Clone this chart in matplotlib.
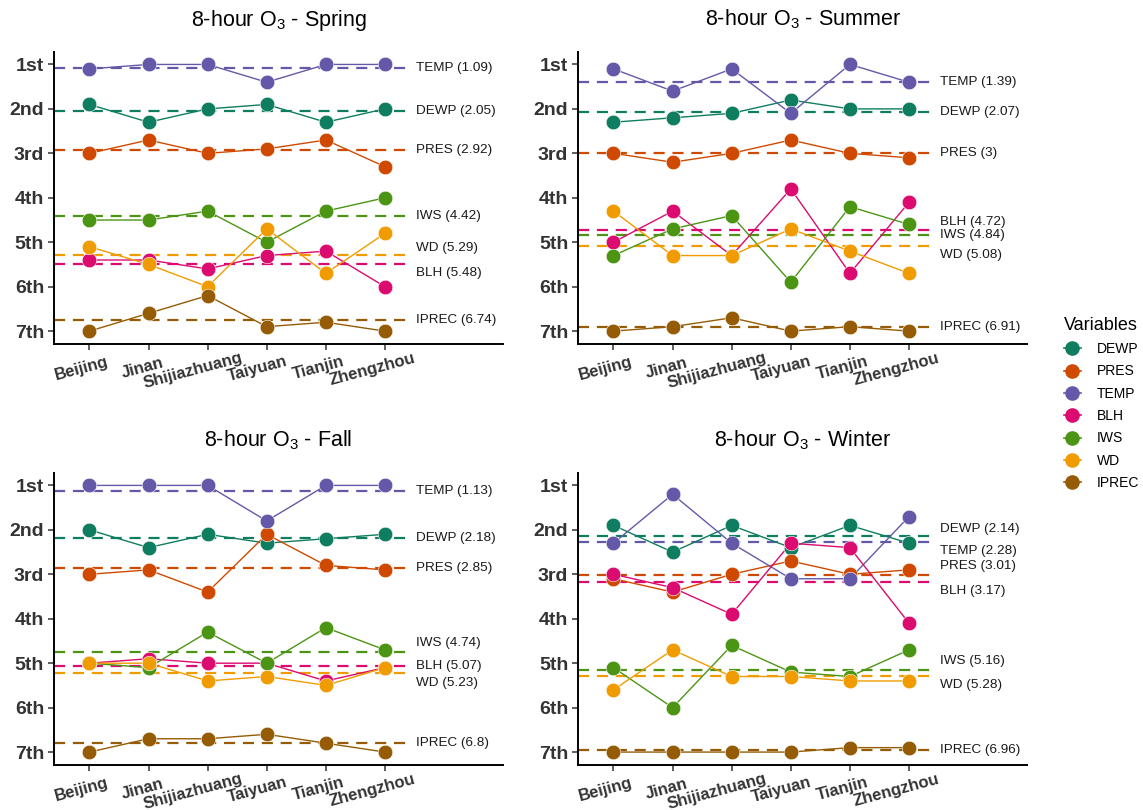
import matplotlib
matplotlib.use('Agg')
import numpy as np
import matplotlib.pyplot as plt
import matplotlib.transforms as mtransforms
from matplotlib.lines import Line2D
from matplotlib.font_manager import FontProperties
from matplotlib.textpath import TextPath

plt.rcParams['font.family'] = ['Liberation Sans', 'DejaVu Sans']
plt.rcParams['mathtext.fontset'] = 'custom'
plt.rcParams['mathtext.rm'] = 'Liberation Sans'

cities = ['Beijing', 'Jinan', 'Shijiazhuang', 'Taiyuan', 'Tianjin', 'Zhengzhou']
rank_labels = ['1st', '2nd', '3rd', '4th', '5th', '6th', '7th']
variables = ['DEWP', 'PRES', 'TEMP', 'BLH', 'IWS', 'WD', 'IPREC']
colors = {'DEWP': '#0f7d5f', 'PRES': '#cf4a00', 'TEMP': '#6459a8', 'BLH': '#dc0b6f',
          'IWS': '#4c9514', 'WD': '#f09c00', 'IPREC': '#955c05'}

# mean rank of each variable over the six cities
spring = {'TEMP': [1.1, 1.0, 1.0, 1.4, 1.0, 1.0],
          'DEWP': [1.9, 2.3, 2.0, 1.9, 2.3, 2.0],
          'PRES': [3.0, 2.7, 3.0, 2.9, 2.7, 3.3],
          'IWS': [4.5, 4.5, 4.3, 5.0, 4.3, 4.0],
          'WD': [5.1, 5.5, 6.0, 4.7, 5.7, 4.8],
          'BLH': [5.4, 5.4, 5.6, 5.3, 5.2, 6.0],
          'IPREC': [7.0, 6.6, 6.2, 6.9, 6.8, 7.0]}
spring_mean = {'TEMP': 1.09, 'DEWP': 2.05, 'PRES': 2.92, 'IWS': 4.42,
               'WD': 5.29, 'BLH': 5.48, 'IPREC': 6.74}

summer = {'TEMP': [1.1, 1.6, 1.1, 2.1, 1.0, 1.4],
          'DEWP': [2.3, 2.2, 2.1, 1.8, 2.0, 2.0],
          'PRES': [3.0, 3.2, 3.0, 2.7, 3.0, 3.1],
          'BLH': [5.0, 4.3, 5.3, 3.8, 5.7, 4.1],
          'IWS': [5.3, 4.7, 4.4, 5.9, 4.2, 4.6],
          'WD': [4.3, 5.3, 5.3, 4.7, 5.2, 5.7],
          'IPREC': [7.0, 6.9, 6.7, 7.0, 6.9, 7.0]}
summer_mean = {'TEMP': 1.39, 'DEWP': 2.07, 'PRES': 3, 'BLH': 4.72,
               'IWS': 4.84, 'WD': 5.08, 'IPREC': 6.91}

fall = {'TEMP': [1.0, 1.0, 1.0, 1.8, 1.0, 1.0],
        'DEWP': [2.0, 2.4, 2.1, 2.3, 2.2, 2.1],
        'PRES': [3.0, 2.9, 3.4, 2.1, 2.8, 2.9],
        'IWS': [5.0, 5.1, 4.3, 5.0, 4.2, 4.7],
        'BLH': [5.0, 4.9, 5.0, 5.0, 5.4, 5.1],
        'WD': [5.0, 5.0, 5.4, 5.3, 5.5, 5.1],
        'IPREC': [7.0, 6.7, 6.7, 6.6, 6.8, 7.0]}
fall_mean = {'TEMP': 1.13, 'DEWP': 2.18, 'PRES': 2.85, 'IWS': 4.74,
             'BLH': 5.07, 'WD': 5.23, 'IPREC': 6.8}

winter = {'TEMP': [2.3, 1.2, 2.3, 3.1, 3.1, 1.7],
          'DEWP': [1.9, 2.5, 1.9, 2.4, 1.9, 2.3],
          'PRES': [3.1, 3.4, 3.0, 2.7, 3.0, 2.9],
          'BLH': [3.0, 3.3, 3.9, 2.3, 2.4, 4.1],
          'IWS': [5.1, 6.0, 4.6, 5.2, 5.3, 4.7],
          'WD': [5.6, 4.7, 5.3, 5.3, 5.4, 5.4],
          'IPREC': [7.0, 7.0, 7.0, 7.0, 6.9, 6.9]}
winter_mean = {'DEWP': 2.14, 'TEMP': 2.28, 'PRES': 3.01, 'BLH': 3.17,
               'IWS': 5.16, 'WD': 5.28, 'IPREC': 6.96}

seasons = [('Spring', spring, spring_mean), ('Summer', summer, summer_mean),
           ('Fall', fall, fall_mean), ('Winter', winter, winter_mean)]

# label offsets so that close labels don't overlap
nudge = {'Spring': {'WD': -0.17, 'BLH': 0.22},
         'Summer': {'BLH': -0.18, 'WD': 0.21},
         'Fall': {'IWS': -0.19, 'WD': 0.21},
         'Winter': {'DEWP': -0.17, 'TEMP': 0.2, 'PRES': -0.19, 'BLH': 0.2,
                    'IWS': -0.2, 'WD': 0.2}}

fig = plt.figure(figsize=(11.43, 8.10), dpi=100)
boxes = [(0.0472, 0.5753), (0.5057, 0.5753), (0.0472, 0.0556), (0.5057, 0.0556)]

# city label widths (px) so the slanted labels sit like hjust ~0.65
fp = FontProperties(family='Liberation Sans', weight='bold', size=12)
widths = [TextPath((0, 0), c, prop=fp).get_extents().width * 100 / 72 for c in cities]
ang = np.radians(15)

xpos = list(range(1, len(cities) + 1))
for (name, data, means), (x0, y0) in zip(seasons, boxes):
    ax = fig.add_axes([x0, y0, 0.393, 0.3605])
    for v in variables:
        c = colors[v]
        m = means[v]
        ax.plot([0.4, 6.42], [m, m], ls=(0, (5, 3.5)), lw=1.6, color=c, zorder=1)
        ax.plot(xpos, data[v], '-', color=c, lw=1.0, zorder=2)
        ax.plot(xpos, data[v], 'o', color=c, ms=10.5, mec='white', mew=0.4, zorder=3)
        ax.text(6.52, m + nudge[name].get(v, 0), '%s (%g)' % (v, m),
                ha='left', va='center', fontsize=9.7, color='#1a1a1a')
    ax.set_xlim(0.4, 8.0)
    ax.set_ylim(7.29, 0.72)
    ax.set_yticks(range(1, 8))
    ax.set_yticklabels(rank_labels, fontsize=14, fontweight='bold', color='#333333')
    ax.set_xticks(xpos)
    ax.set_xticklabels([])
    # slanted city names, drawn by hand so they can be shifted
    for xi, city, w in zip(xpos, cities, widths):
        dx = -2 - 0.15 * w * np.cos(ang)
        dy = -15 - 0.15 * w * np.sin(ang)
        shift = mtransforms.ScaledTranslation(dx / 100, dy / 100, fig.dpi_scale_trans)
        ax.text(xi, 0, city, transform=ax.get_xaxis_transform() + shift,
                fontsize=12, fontweight='bold', color='#333333', rotation=15,
                ha='center', va='top', rotation_mode='anchor')
    ax.tick_params(axis='both', length=4, width=1.1, color='#333333')
    ax.tick_params(axis='y', pad=3)
    for s in ['top', 'right']:
        ax.spines[s].set_visible(False)
    for s in ['left', 'bottom']:
        ax.spines[s].set_linewidth(1.4)
    ax.set_title('8-hour O$\\mathregular{_3}$ - ' + name, fontsize=15.5, pad=19)

handles = [Line2D([], [], color=colors[v], marker='o', ms=9.5, lw=1.2) for v in variables]
leg = fig.legend(handles, variables, title='Variables', loc='upper left',
                 bbox_to_anchor=(0.931, 0.609), frameon=False, fontsize=10,
                 title_fontsize=13, handlelength=1.2, labelspacing=0.6,
                 handletextpad=1.15, borderpad=0, borderaxespad=0,
                 alignment='left')

plt.savefig('out.png', dpi=100)
